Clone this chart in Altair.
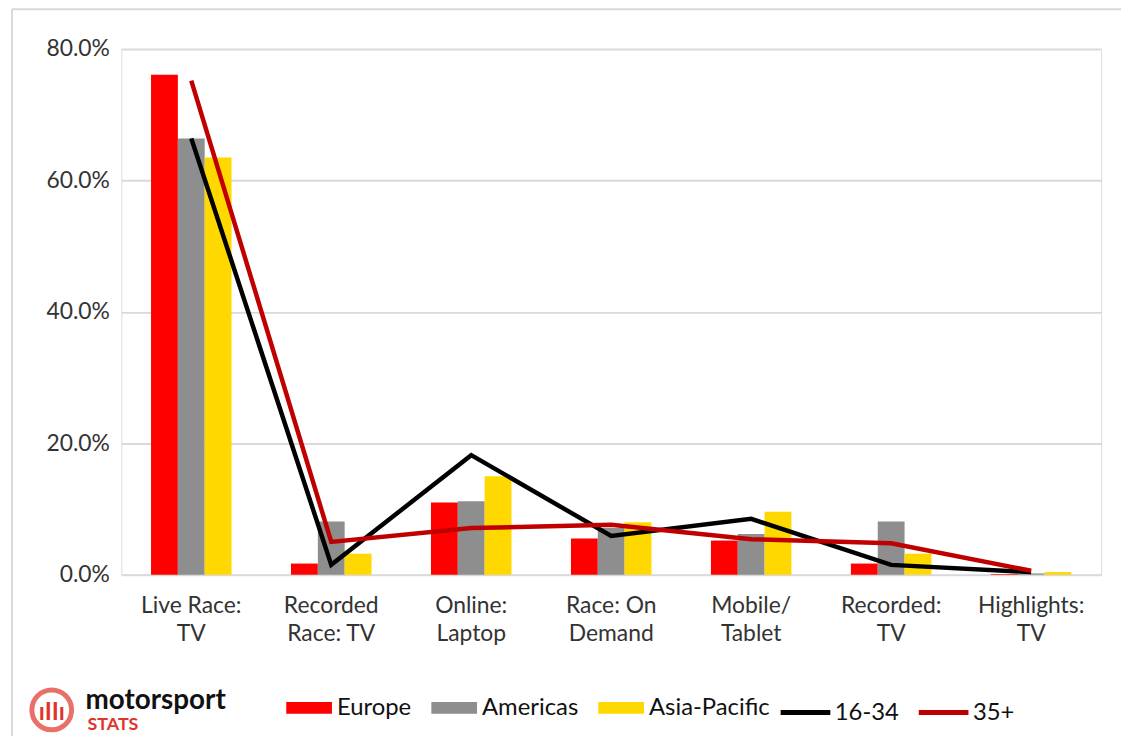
import altair as alt
import pandas as pd

categories = ["Live Race:|TV", "Recorded|Race: TV", "Online:|Laptop", "Race: On|Demand",
              "Mobile/|Tablet", "Recorded:|TV", "Highlights:|TV"]
europe = [76.1, 1.7, 11.0, 5.5, 5.2, 1.7, 0.1]
americas = [66.4, 8.1, 11.2, 7.1, 6.2, 8.1, 0.2]
asia_pacific = [63.5, 3.2, 15.0, 8.0, 9.6, 3.2, 0.4]
age_16_34 = [66.4, 1.5, 18.2, 5.9, 8.5, 1.5, 0.4]
age_35_plus = [75.2, 5.0, 7.1, 7.6, 5.4, 4.8, 0.6]

bar_series = ["Europe", "Americas", "Asia-Pacific"]
bar_colors = ["#ff0000", "#8e8e8e", "#ffd800"]
line_series = ["16-34", "35+"]
line_colors = ["#000000", "#c00000"]

rows = []
for name, vals in zip(bar_series, [europe, americas, asia_pacific]):
    for c, v in zip(categories, vals):
        rows.append({"category": c, "series": name, "value": v / 100})
bars_df = pd.DataFrame(rows)

rows = []
for name, vals in zip(line_series, [age_16_34, age_35_plus]):
    for i, (c, v) in enumerate(zip(categories, vals)):
        rows.append({"category": c, "series": name, "value": v / 100, "order": i})
lines_df = pd.DataFrame(rows)

FONT = "Lato"

x_enc = alt.X(
    "category:N", sort=categories, title=None,
    scale=alt.Scale(paddingInner=0.425, paddingOuter=0.2125),
    axis=alt.Axis(labelExpr="split(datum.label, '|')", labelAngle=0, labelFontSize=23,
                  labelColor="#333333", labelFont=FONT, labelPadding=20, labelLineHeight=28,
                  domain=False, ticks=False, grid=False),
)
y_enc = alt.Y(
    "value:Q", title=None,
    scale=alt.Scale(domain=[0, 0.8], nice=False),
    axis=alt.Axis(format=".1%", values=[0, 0.2, 0.4, 0.6, 0.8], labelFontSize=23,
                  labelColor="#333333", labelFont=FONT, labelPadding=12,
                  domain=False, ticks=False, gridColor="#d9d9d9", gridWidth=2),
)

bars = alt.Chart(bars_df).mark_bar().encode(
    x=x_enc,
    y=y_enc,
    xOffset=alt.XOffset("series:N", sort=bar_series, scale=alt.Scale(paddingInner=0, paddingOuter=0)),
    fill=alt.Fill("series:N", sort=bar_series,
                  scale=alt.Scale(domain=bar_series, range=bar_colors),
                  legend=alt.Legend(title=None, orient="none", direction="horizontal",
                                    legendX=166, legendY=640,
                                    symbolType="M-1,-0.26H1V0.26H-1Z", symbolSize=2116,
                                    symbolStrokeWidth=0, labelFontSize=24, labelFont=FONT,
                                    labelColor="#111111", labelOffset=5, columnPadding=20)),
)

lines = alt.Chart(lines_df).mark_line(strokeWidth=4.5).encode(
    x=alt.X("category:N", sort=categories),
    y=alt.Y("value:Q"),
    order="order:Q",
    stroke=alt.Stroke("series:N", sort=line_series,
                      scale=alt.Scale(domain=line_series, range=line_colors),
                      legend=alt.Legend(title=None, orient="none", direction="horizontal",
                                        legendX=661, legendY=640,
                                        symbolType="stroke", symbolSize=2500,
                                        symbolStrokeWidth=5, labelFontSize=24, labelFont=FONT,
                                        labelColor="#111111", labelOffset=2, columnPadding=9)),
)

one = pd.DataFrame({"a": [0]})
frame_left = alt.Chart(one).mark_rule(color="#d9d9d9", strokeWidth=2).encode(
    x=alt.value(-110), y=alt.value(-40), y2=alt.value(700))
frame_top = alt.Chart(one).mark_rule(color="#d9d9d9", strokeWidth=2).encode(
    x=alt.value(-110), x2=alt.value(1010), y=alt.value(-40))
logo_ring = alt.Chart(one).mark_point(
    shape="circle", filled=False, stroke="#e0352b", strokeWidth=5, size=1600
).encode(x=alt.value(-70), y=alt.value(665))
logo_bars = alt.Chart(one).mark_text(
    text="ıIIı", font=FONT, fontSize=24, fontWeight="bold", color="#e0352b", dy=3
).encode(x=alt.value(-70), y=alt.value(665))
logo_top = alt.Chart(one).mark_text(
    text="motorsport", font=FONT, fontSize=28, fontWeight="bold", color="#111111",
    align="left", baseline="alphabetic"
).encode(x=alt.value(-36), y=alt.value(664))
logo_bottom = alt.Chart(one).mark_text(
    text="STATS", font=FONT, fontSize=18, fontWeight="bold", color="#e0352b",
    align="left", baseline="alphabetic"
).encode(x=alt.value(-34), y=alt.value(685))

chart = alt.layer(frame_left, frame_top, bars, lines, logo_ring, logo_bars, logo_top,
                  logo_bottom).resolve_scale(
    fill="independent", stroke="independent"
).properties(
    width=986, height=529,
    autosize=alt.AutoSizeParams(type="none"),
    padding={"left": 114, "top": 39, "right": 20, "bottom": 160},
).configure_view(stroke=None).configure(background="white")

chart.save("out.html", embed_options={"renderer": "svg", "actions": False})
